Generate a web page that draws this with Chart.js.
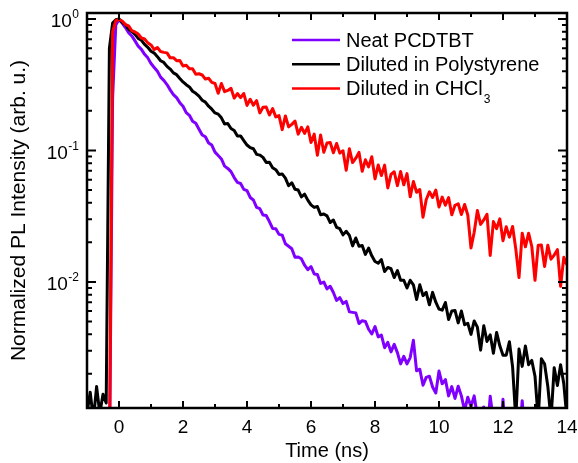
<!DOCTYPE html>
<html>
<head>
<meta charset="utf-8">
<script src="https://cdn.jsdelivr.net/npm/chart.js@4.4.1/dist/chart.umd.min.js"></script>
<style>
  html, body { margin: 0; padding: 0; background: #fff; }
  #wrap { width: 578px; height: 463px; }
</style>
</head>
<body>
<div id="wrap"><canvas id="plot" width="578" height="463"></canvas></div>
<script>
// sampling times (ns)
const timeNs = [
  -1.0, -0.9, -0.8, -0.7, -0.6, -0.5, -0.4, -0.3, -0.2, -0.1,
  0.0, 0.1, 0.2, 0.3, 0.4, 0.5, 0.6, 0.7, 0.8, 0.9,
  1.0, 1.1, 1.2, 1.3, 1.4, 1.5, 1.6, 1.7, 1.8, 1.9,
  2.0, 2.1, 2.2, 2.3, 2.4, 2.5, 2.6, 2.7, 2.8, 2.9,
  3.0, 3.1, 3.2, 3.3, 3.4, 3.5, 3.6, 3.7, 3.8, 3.9,
  4.0, 4.1, 4.2, 4.3, 4.4, 4.5, 4.6, 4.7, 4.8, 4.9,
  5.0, 5.1, 5.2, 5.3, 5.4, 5.5, 5.6, 5.7, 5.8, 5.9,
  6.0, 6.1, 6.2, 6.3, 6.4, 6.5, 6.6, 6.7, 6.8, 6.9,
  7.0, 7.1, 7.2, 7.3, 7.4, 7.5, 7.6, 7.7, 7.8, 7.9,
  8.0, 8.1, 8.2, 8.3, 8.4, 8.5, 8.6, 8.7, 8.8, 8.9,
  9.0, 9.1, 9.2, 9.3, 9.4, 9.5, 9.6, 9.7, 9.8, 9.9,
  10.0, 10.1, 10.2, 10.3, 10.4, 10.5, 10.6, 10.7, 10.8, 10.9,
  11.0, 11.1, 11.2, 11.3, 11.4, 11.5, 11.6, 11.7, 11.8, 11.9,
  12.0, 12.1, 12.2, 12.3, 12.4, 12.5, 12.6, 12.7, 12.8, 12.9,
  13.0, 13.1, 13.2, 13.3, 13.4, 13.5, 13.6, 13.7, 13.8, 13.9,
  14.0
];

// normalized PL intensity
const neatPCDTBT = [
  0.0004, 0.00038, 0.00042, 0.0004, 0.00037, 0.00041, 0.0004, 0.00039, 0.25, 0.9,
  0.99, 0.93, 0.861, 0.787, 0.743, 0.681, 0.621, 0.587, 0.538, 0.506,
  0.458, 0.428, 0.400, 0.361, 0.341, 0.317, 0.289, 0.266, 0.252, 0.231,
  0.217, 0.194, 0.185, 0.167, 0.161, 0.145, 0.131, 0.127, 0.114, 0.110,
  0.0971, 0.0915, 0.0862, 0.0760, 0.0730, 0.0690, 0.0622, 0.0572, 0.0561, 0.0506,
  0.0494, 0.0439, 0.0420, 0.0369, 0.0361, 0.0323, 0.0320, 0.0288, 0.0255, 0.0254,
  0.0230, 0.0227, 0.0195, 0.0187, 0.0179, 0.0154, 0.0155, 0.0150, 0.0134, 0.0124,
  0.0131, 0.0115, 0.0114, 0.00975, 0.00999, 0.00886, 0.00928, 0.00831, 0.00723, 0.00760,
  0.00685, 0.00711, 0.00592, 0.00587, 0.00582, 0.00483, 0.00507, 0.00501, 0.00437, 0.00402,
  0.00458, 0.00382, 0.00394, 0.00316, 0.00347, 0.00294, 0.00335, 0.00290, 0.00238, 0.00272,
  0.00238, 0.00266, 0.0036, 0.00211, 0.00217, 0.00164, 0.00188, 0.00192, 0.00159, 0.00143,
  0.00210, 0.00168, 0.00181, 0.00136, 0.00160, 0.00130, 0.00161, 0.00136, 0.00105, 0.00133,
  0.00113, 0.00136, 0.00095, 0.00104, 0.00112, 0.00066, 0.00135, 0.00088, 0.00068, 0.00060,
  0.00128, 0.00059, 0.00073, 0.00061, 0.00048, 0.00059, 0.00125, 0.00061, 0.00043, 0.00047,
  0.00050, 0.00034, 0.00043, 0.00046, 0.00035, 0.00030, 0.00041, 0.00032, 0.00035, 0.00026,
  0.00031
];

const dilutedPS = [
  0.0010, 0.00145, 0.0009, 0.0016, 0.0010, 0.0014, 0.0012, 0.6, 0.93, 0.985,
  1.0, 0.940, 0.904, 0.836, 0.804, 0.765, 0.712, 0.689, 0.640, 0.609,
  0.568, 0.550, 0.517, 0.481, 0.467, 0.436, 0.416, 0.389, 0.377, 0.353,
  0.332, 0.316, 0.304, 0.282, 0.272, 0.259, 0.241, 0.233, 0.217, 0.206,
  0.193, 0.189, 0.177, 0.159, 0.160, 0.147, 0.142, 0.129, 0.129, 0.119,
  0.110, 0.105, 0.103, 0.0934, 0.0922, 0.0886, 0.0811, 0.0815, 0.0740, 0.0714,
  0.0657, 0.0663, 0.0616, 0.0539, 0.0568, 0.0507, 0.0500, 0.0444, 0.0465, 0.0419,
  0.0386, 0.0369, 0.0375, 0.0324, 0.0329, 0.0318, 0.0283, 0.0296, 0.0260, 0.0254,
  0.0228, 0.0243, 0.0226, 0.0188, 0.0216, 0.0187, 0.0189, 0.0162, 0.0181, 0.0158,
  0.0143, 0.0139, 0.0148, 0.0120, 0.0129, 0.0126, 0.0108, 0.0122, 0.0103, 0.0103,
  0.00899, 0.0103, 0.00952, 0.00735, 0.00951, 0.00787, 0.00833, 0.00670, 0.00833, 0.00701,
  0.00622, 0.00610, 0.00698, 0.00518, 0.00602, 0.00607, 0.00488, 0.00601, 0.00473, 0.00484,
  0.00399, 0.00505, 0.00453, 0.00303, 0.00464, 0.00353, 0.00396, 0.00287, 0.00413, 0.00327,
  0.00277, 0.00277, 0.00351, 0.00226, 0.0009, 0.00309, 0.00228, 0.00326, 0.00235, 0.00253,
  0.00192, 0.0009, 0.00261, 0.00238, 0.00161, 0.0009, 0.00223, 0.00163, 0.00235, 0.00168,
  0.0009
];

const dilutedCHCl3 = [
  0.0004, 0.0004, 0.00041, 0.00039, 0.0004, 0.0004, 0.00038, 0.0004, 0.8, 0.97,
  0.995, 0.965, 0.907, 0.885, 0.815, 0.797, 0.768, 0.717, 0.704, 0.658,
  0.635, 0.585, 0.607, 0.565, 0.557, 0.552, 0.506, 0.508, 0.482, 0.484,
  0.439, 0.445, 0.418, 0.418, 0.380, 0.383, 0.375, 0.349, 0.354, 0.329,
  0.323, 0.272, 0.323, 0.280, 0.286, 0.297, 0.250, 0.271, 0.252, 0.271,
  0.220, 0.245, 0.221, 0.239, 0.193, 0.213, 0.214, 0.186, 0.208, 0.180,
  0.184, 0.144, 0.183, 0.151, 0.158, 0.167, 0.133, 0.150, 0.135, 0.151,
  0.115, 0.133, 0.092, 0.131, 0.097, 0.114, 0.115, 0.096, 0.113, 0.0954,
  0.0995, 0.0707, 0.103, 0.0809, 0.0873, 0.0966, 0.0695, 0.0849, 0.0750, 0.0895,
  0.0608, 0.0775, 0.0644, 0.0773, 0.0519, 0.0657, 0.0689, 0.0540, 0.0691, 0.0548,
  0.0667, 0.0444, 0.0581, 0.0481, 0.0505, 0.0310, 0.0422, 0.0485, 0.0439, 0.0499,
  0.0371, 0.0442, 0.0383, 0.0438, 0.0324, 0.0383, 0.0393, 0.0326, 0.0388, 0.0323,
  0.0181, 0.0239, 0.0349, 0.0274, 0.0296, 0.0327, 0.0159, 0.0288, 0.0254, 0.0302,
  0.0206, 0.0263, 0.0219, 0.0264, 0.0178, 0.0108, 0.0235, 0.0185, 0.0235, 0.0186,
  0.0103, 0.0190, 0.0191, 0.0131, 0.0190, 0.0149, 0.0160, 0.0176, 0.00926, 0.0154,
  0.0135
];

const seriesNames = ['Neat PCDTBT', 'Diluted in Polystyrene', 'Diluted in CHCl'];
const seriesSubscripts = ['', '', '3'];
const seriesColors = ['#8000ff', '#000000', '#ff0000'];

const xTickValues = [0, 2, 4, 6, 8, 10, 12, 14];
const yTickValues = [1, 0.1, 0.01];
const yTickExponents = ['0', '-1', '-2'];

const FONT = "'Liberation Sans', Arial, sans-serif";
Chart.defaults.font.family = FONT;
Chart.defaults.color = '#000';

function toPoints(values) {
  return timeNs.map((t, i) => ({ x: t, y: values[i] }));
}

// frame, inward ticks, 10^n labels and legend
const decorations = {
  id: 'decorations',
  afterDraw(chart) {
    const ctx = chart.ctx;
    const { left, right, top, bottom } = chart.chartArea;
    const xs = chart.scales.x;
    const ys = chart.scales.y;
    ctx.save();
    ctx.strokeStyle = '#000';
    ctx.lineWidth = 2;
    ctx.beginPath();
    for (let t = Math.ceil(xs.min); t <= xs.max; t++) {
      const px = xs.getPixelForValue(t);
      if (px < left + 2 || px > right - 2) continue;
      const len = t % 2 === 0 ? 7 : 4;
      ctx.moveTo(px, bottom); ctx.lineTo(px, bottom - len);
      ctx.moveTo(px, top); ctx.lineTo(px, top + len);
    }
    for (let d = -3; d <= 0; d++) {
      for (let m = 1; m <= 9; m++) {
        const v = m * Math.pow(10, d);
        if (v < ys.min || v > ys.max) continue;
        const py = ys.getPixelForValue(v);
        const len = m === 1 ? 9 : 5;
        ctx.moveTo(left, py); ctx.lineTo(left + len, py);
        ctx.moveTo(right, py); ctx.lineTo(right - len, py);
      }
    }
    ctx.stroke();
    ctx.lineWidth = 2.5;
    ctx.strokeRect(left, top, right - left, bottom - top);

    // y tick labels as 10 with superscript
    ctx.fillStyle = '#000';
    ctx.textBaseline = 'alphabetic';
    ctx.textAlign = 'right';
    yTickValues.forEach((v, i) => {
      const py = ys.getPixelForValue(v);
      const xr = left - 8;
      ctx.font = '12px ' + FONT;
      const ew = ctx.measureText(yTickExponents[i]).width;
      ctx.fillText(yTickExponents[i], xr, py - 0.5);
      ctx.font = '19px ' + FONT;
      ctx.fillText('10', xr - ew - 0.5, py + 8.5);
    });

    // legend
    ctx.textAlign = 'left';
    chart.data.datasets.forEach((ds, i) => {
      const ly = 40 + i * 24.2;
      ctx.strokeStyle = ds.borderColor;
      ctx.lineWidth = 2.5;
      ctx.beginPath();
      ctx.moveTo(292, ly);
      ctx.lineTo(340, ly);
      ctx.stroke();
      ctx.font = '20px ' + FONT;
      ctx.fillText(seriesNames[i], 346, ly + 6.8);
      if (seriesSubscripts[i]) {
        const w = ctx.measureText(seriesNames[i]).width;
        ctx.font = '12px ' + FONT;
        ctx.fillText(seriesSubscripts[i], 346 + w + 1, ly + 15);
      }
    });
    ctx.restore();
  }
};

new Chart(document.getElementById('plot'), {
  type: 'line',
  data: {
    datasets: seriesNames.map((name, i) => ({
      label: name + seriesSubscripts[i],
      data: toPoints([neatPCDTBT, dilutedPS, dilutedCHCl3][i]),
      borderColor: seriesColors[i],
      borderWidth: 3,
      borderJoinStyle: 'round',
      pointRadius: 0,
      fill: false,
      tension: 0,
      order: 3 - i
    }))
  },
  options: {
    responsive: false,
    animation: false,
    layout: { padding: { left: 0, right: 11, top: 13, bottom: 0 } },
    plugins: { legend: { display: false }, tooltip: { enabled: false } },
    scales: {
      x: {
        type: 'linear',
        min: -1,
        max: 14,
        grid: { display: false, drawTicks: false },
        border: { display: false },
        afterBuildTicks(scale) { scale.ticks = xTickValues.map(v => ({ value: v })); },
        afterFit(scale) { scale.height = 55; scale.paddingLeft = 0; scale.paddingRight = 0; },
        ticks: { font: { size: 19 }, padding: 8, maxRotation: 0, autoSkip: false },
        title: { display: true, text: 'Time (ns)', font: { size: 20 }, padding: { top: 0, bottom: 0 } }
      },
      y: {
        type: 'logarithmic',
        min: 0.0011,
        max: 1.11,
        grid: { display: false, drawTicks: false },
        border: { display: false },
        ticks: { display: false },
        afterFit(scale) { scale.width = 87; scale.paddingTop = 0; scale.paddingBottom = 0; },
        title: { display: true, text: 'Normalized PL Intensity (arb. u.)', font: { size: 21 }, padding: { top: 7, bottom: 0 } }
      }
    }
  },
  plugins: [decorations]
});
</script>
</body>
</html>
